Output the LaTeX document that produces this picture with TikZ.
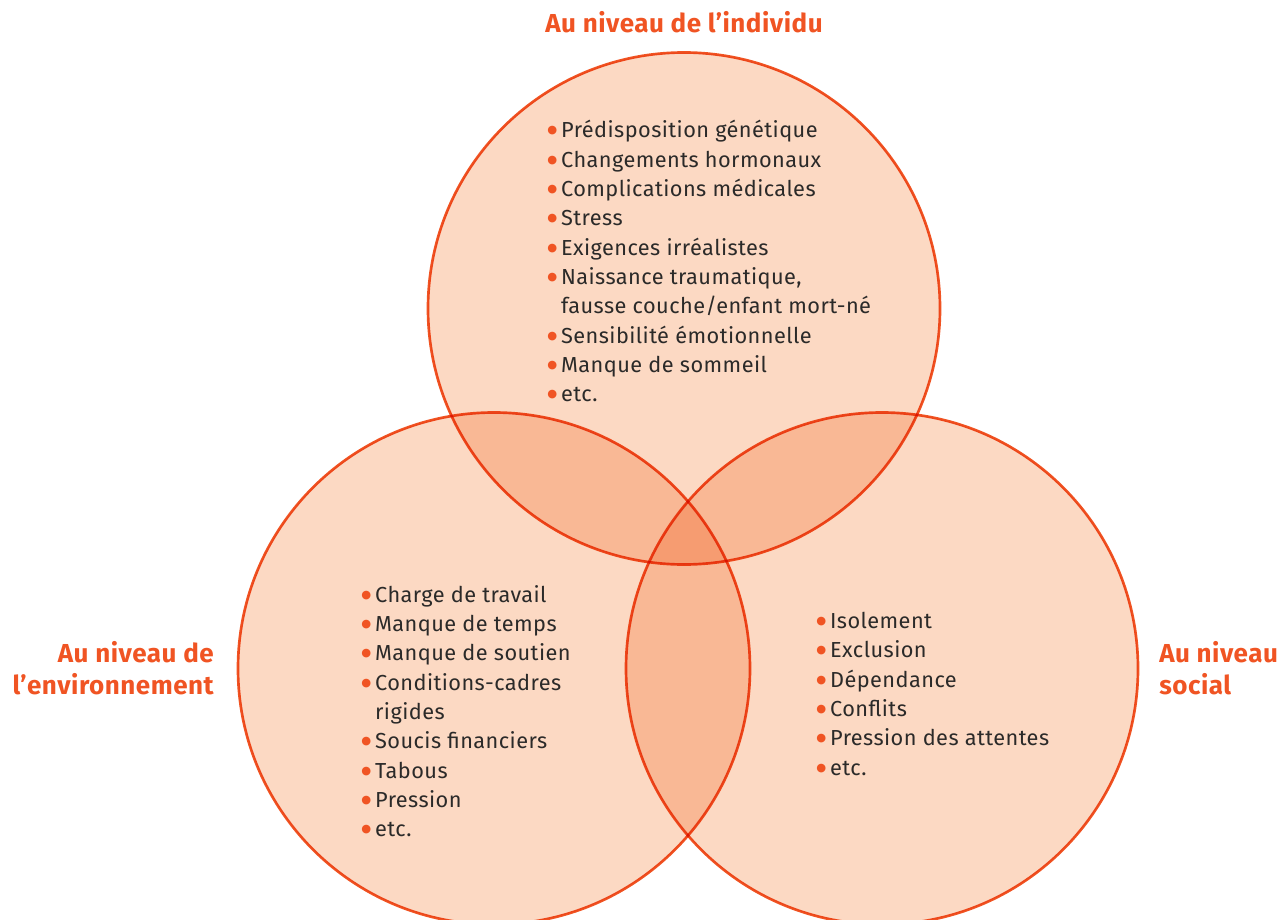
\documentclass[tikz,border=0pt]{standalone}
\usepackage{fontspec}
\setmainfont[LetterSpace=2]{Fira Sans}
\newfontfamily\dotfont{DejaVu Sans}
\usetikzlibrary{positioning}

\definecolor{vorange}{RGB}{240,84,35}
\definecolor{vpeach}{RGB}{252,217,195}
\definecolor{vtext}{RGB}{43,42,41}
\newcommand{\bul}{\textcolor{vorange}{\raisebox{3pt}{\dotfont\fontsize{8.5}{8.5}\selectfont ●}}\hspace{3pt}}

\begin{document}
\begin{tikzpicture}[x=0.75pt, y=-0.75pt, node distance = 270pt and 142.5pt, on grid,
lvl/.style ={circle, draw = vorange, fill = vpeach, line width = 2pt, minimum size = 384pt, inner sep = 0pt, outer sep = 0pt},
ttl/.style ={text = vorange, font = \fontsize{19.5}{24}\selectfont\bfseries, inner sep = 0pt},
lst/.style ={text = vtext, font = \fontsize{16.3}{22}\selectfont, align = left, anchor = north west, inner sep = 0pt}]
\useasboundingbox (0,0) rectangle (1288,920);
\begin{scope}[blend group = multiply]
\node[lvl] (indiv) at (684,308.5) {};
\node[lvl] (envir) [below left = of indiv] {};
\node[lvl] (soc) [right = 291pt of envir] {};
\end{scope}
\node[ttl] (tindiv) at (684,22) {Au niveau de l’individu};
\node[ttl, align = right, anchor = east] (tenvir) at (214,668) {Au niveau de\\l’environnement};
\node[ttl, align = left, anchor = west] (tsoc) at (1159,668) {Au niveau\\social};
\node[lst] (lindiv) at (547,120) {\bul Prédisposition génétique\\
\bul Changements hormonaux\\
\bul Complications médicales\\
\bul Stress\\
\bul Exigences irréalistes\\
\bul Naissance traumatique,\\
\hphantom{\bul}fausse couche/enfant mort-né\\
\bul Sensibilité émotionnelle\\
\bul Manque de sommeil\\
\bul etc.};
\node[lst] (lenvir) at (361,585) {\bul Charge de travail\\
\bul Manque de temps\\
\bul Manque de soutien\\
\bul Conditions-cadres\\
\hphantom{\bul}rigides\\
\bul Soucis financiers\\
\bul Tabous\\
\bul Pression\\
\bul etc.};
\node[lst] (lsoc) at (816,612) {\bul Isolement\\
\bul Exclusion\\
\bul Dépendance\\
\bul Conflits\\
\bul Pression des attentes\\
\bul etc.};
\end{tikzpicture}
\end{document}
